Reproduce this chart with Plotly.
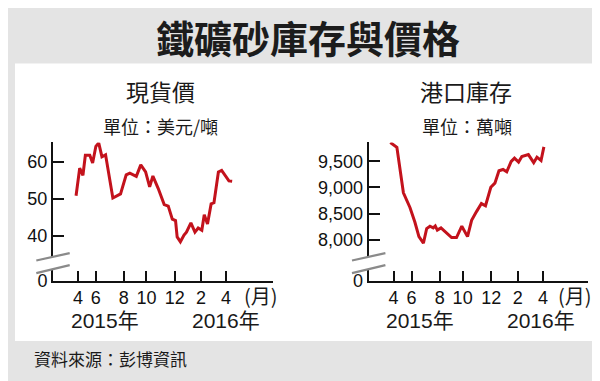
import plotly.graph_objects as go

# ---------------- data ----------------
price_dates = ["2015-03-27","2015-04-05","2015-04-13","2015-04-19","2015-04-30","2015-05-07",
               "2015-05-15","2015-05-22","2015-05-30","2015-06-08","2015-06-26","2015-07-04",
               "2015-07-15","2015-07-29","2015-08-07","2015-08-23","2015-09-03","2015-09-15",
               "2015-09-25","2015-10-03","2015-10-16","2015-10-31","2015-11-10","2015-11-20",
               "2015-11-28","2015-12-02","2015-12-10","2015-12-19","2015-12-25","2016-01-05",
               "2016-01-15","2016-01-23","2016-02-01","2016-02-07","2016-02-15","2016-02-24",
               "2016-03-02","2016-03-13","2016-03-21","2016-04-08","2016-04-16"]
price_values = [50.8,58.2,56.3,61.7,61.7,59.6,64.1,65.0,61.3,61.8,50.2,50.6,51.3,56.4,56.9,
                56.0,59.1,57.2,53.2,56.1,52.8,48.4,48.0,44.5,44.1,39.7,38.4,40.2,41.0,43.5,
                41.0,42.1,41.5,45.7,43.2,48.6,48.9,57.2,57.6,54.8,54.7]

stock_dates = ["2015-03-24","2015-04-09","2015-04-25","2015-05-11","2015-05-23","2015-06-02",
               "2015-06-13","2015-06-21","2015-06-29","2015-07-07","2015-07-12","2015-07-17",
               "2015-07-26","2015-08-11","2015-08-21","2015-09-02","2015-09-15","2015-09-29",
               "2015-10-09","2015-10-21","2015-11-02","2015-11-12","2015-11-25","2015-12-05",
               "2015-12-15","2015-12-25","2016-01-03","2016-01-14","2016-01-22","2016-02-01",
               "2016-02-09","2016-02-25","2016-03-09","2016-03-17","2016-03-27","2016-04-03"]
stock_values = [9860,9766,8898,8619,8340,8061,7937,8216,8260,8229,8266,8186,8229,8104,8043,
                8043,8260,8061,8372,8539,8693,8651,9004,9084,9320,9344,9301,9498,9562,9487,
                9591,9628,9474,9580,9517,9777]

month_tick_dates = ["2015-04-01","2015-05-15","2015-07-23","2015-09-17","2015-11-26",
                    "2016-01-30","2016-04-01"]
month_tick_labels = ["4","6","8","10","12","2","4"]

price_ticks = [27.94, 40, 50, 60]
price_tick_labels = ["0", "40", "50", "60"]
stock_ticks = [7220, 8000, 8500, 9000, 9500]
stock_tick_labels = ["0", "8,000", "8,500", "9,000", "9,500"]

title_text = "鐵礦砂庫存與價格"
left_title = "現貨價"
left_unit = "單位：美元/噸"
right_title = "港口庫存"
right_unit = "單位：萬噸"
year_labels = ["2015年", "2016年"]
month_unit = "(月)"
source_text = "資料來源：彭博資訊"

# ---------------- figure ----------------
W, H = 600, 381
def px(x): return x / W
def py(y): return 1 - y / H

RED = "#c3121c"
NUM_FONT = "Liberation Sans, Arial, Noto Sans CJK TC"
CJK_FONT = "Noto Sans CJK TC, Noto Sans CJK SC"

fig = go.Figure()
fig.add_trace(go.Scatter(x=price_dates, y=price_values, mode="lines",
                         line=dict(color=RED, width=3), xaxis="x", yaxis="y",
                         showlegend=False, hoverinfo="skip"))
fig.add_trace(go.Scatter(x=stock_dates, y=stock_values, mode="lines",
                         line=dict(color=RED, width=3), xaxis="x2", yaxis="y2",
                         showlegend=False, hoverinfo="skip"))

xcommon = dict(type="date", showgrid=False, zeroline=False, showline=True,
               linecolor="#111", linewidth=2, ticks="inside", ticklen=10,
               tickwidth=1.5, tickcolor="#111", tickvals=month_tick_dates,
               ticktext=month_tick_labels, tickfont=dict(family=NUM_FONT, size=18, color="#111"),
               fixedrange=True)
ycommon = dict(showgrid=False, zeroline=False, showline=True, linecolor="#111",
               linewidth=2, ticks="inside", ticklen=11, tickwidth=1.5, tickcolor="#111",
               tickfont=dict(family=NUM_FONT, size=18, color="#111"), fixedrange=True)

fig.update_layout(
    width=W, height=H,
    margin=dict(l=0, r=0, t=0, b=0),
    paper_bgcolor="#e4e4e4",
    plot_bgcolor="white",
    xaxis=dict(xcommon, domain=[px(45), px(265)], range=["2015-01-29", "2016-07-26"], anchor="y"),
    yaxis=dict(ycommon, domain=[py(280), py(138)], range=[27.94, 65.16],
               tickvals=price_ticks, ticktext=price_tick_labels, anchor="x"),
    xaxis2=dict(xcommon, domain=[px(360.7), px(580)], range=["2015-01-30", "2016-07-20"], anchor="y2"),
    yaxis2=dict(ycommon, domain=[py(280), py(138)], range=[7220, 9862],
                tickvals=stock_ticks, ticktext=stock_tick_labels, anchor="x2"),
)

shapes = []
# white panel
shapes.append(dict(type="rect", xref="paper", yref="paper", x0=px(7), x1=px(593),
                   y0=py(342), y1=py(57), fillcolor="white", line=dict(width=0), layer="below"))
# axis breaks
for ax in (45, 360.7):
    x0, x1 = ax - 16.7, ax + 16.7
    path = (f"M {px(x0)},{py(259.3)} L {px(x1)},{py(251.7)} "
            f"L {px(x1)},{py(264)} L {px(x0)},{py(272.3)} Z")
    shapes.append(dict(type="path", xref="paper", yref="paper", path=path,
                       fillcolor="white", line=dict(width=0), layer="above"))
    shapes.append(dict(type="line", xref="paper", yref="paper", x0=px(x0), y0=py(259.3),
                       x1=px(x1), y1=py(251.7), line=dict(color="#8a8a8a", width=2.2), layer="above"))
    shapes.append(dict(type="line", xref="paper", yref="paper", x0=px(x0), y0=py(272.3),
                       x1=px(x1), y1=py(264), line=dict(color="#8a8a8a", width=2.2), layer="above"))
fig.update_layout(shapes=shapes)

ann = []
def add(text, x, y, size, family=CJK_FONT, weight="normal", color="#1a1a1a", xanchor="center"):
    ann.append(dict(text=text, x=px(x), y=py(y), xref="paper", yref="paper",
                    xanchor=xanchor, yanchor="middle", showarrow=False,
                    font=dict(family=family, size=size, color=color, weight=weight)))

add(title_text, 300, 29, 38, weight="bold", color="#1c1c1c")
add(left_title, 152.5, 85, 23)
add(left_unit, 152, 121, 18)
add(right_title, 458, 85, 23)
add(right_unit, 459, 121, 18)
# (月)
add(month_unit, 234, 295, 20, family=CJK_FONT, xanchor="left")
add(month_unit, 548, 295, 20, family=CJK_FONT, xanchor="left")
# years
add(year_labels[0], 96.7, 321, 21, family=NUM_FONT)
add(year_labels[1], 218, 321, 21, family=NUM_FONT)
add(year_labels[0], 411.7, 321, 21, family=NUM_FONT)
add(year_labels[1], 533, 321, 21, family=NUM_FONT)
# source
add(source_text, 24, 360, 17, xanchor="left")
fig.update_layout(annotations=ann)

fig.write_html("out.html")
